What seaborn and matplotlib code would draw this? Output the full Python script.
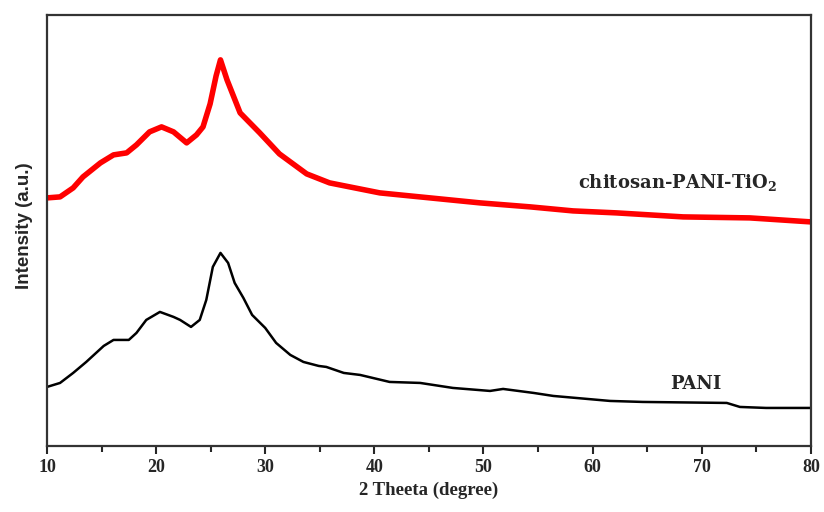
import seaborn as sns
import pandas as pd
import matplotlib.pyplot as plt
from matplotlib.ticker import MultipleLocator

# values (intensity in arbitrary units)
pani_2theta = [10.0, 11.2, 12.4, 13.6, 15.2, 16.1, 17.5, 18.2, 19.1, 20.35, 21.6, 22.2, 23.2,
               24.0, 24.6, 25.2, 25.9, 26.6, 27.2, 28.0, 28.8, 30.0, 31.0, 32.3, 33.5, 34.9,
               35.6, 37.2, 38.7, 41.4, 44.2, 47.2, 50.6, 51.8, 54.6, 56.4, 61.6, 64.6, 72.3,
               73.5, 75.9, 80.0]
pani_int = [59, 63, 73, 84, 100, 106, 106, 113, 126, 134, 129, 126, 119,
            126, 146, 179, 193, 183, 163, 148, 131, 118, 103, 91, 84, 80,
            79, 73, 71, 64, 63, 58, 55, 57, 53, 50, 45, 44, 43,
            39, 38, 38]

ctp_2theta = [10.0, 11.2, 12.4, 13.3, 14.9, 16.1, 17.3, 18.2, 19.4, 20.5, 21.6, 22.8, 23.7,
              24.3, 24.95, 25.5, 25.9, 26.5, 27.7, 29.5, 31.3, 33.8, 35.9, 40.5, 45.1, 49.7,
              54.3, 58.2, 62.2, 68.3, 74.4, 80.0]
ctp_int = [248, 249, 258, 269, 283, 291, 293, 301, 314, 319, 314, 303, 311,
           319, 342, 370, 386, 366, 333, 313, 292, 272, 263, 253, 248, 243,
           239, 235, 233, 229, 228, 224]

pani = pd.DataFrame({'theta': pani_2theta, 'intensity': pani_int})
ctp = pd.DataFrame({'theta': ctp_2theta, 'intensity': ctp_int})

sns.set_style("ticks")
plt.rcParams['font.family'] = ['Liberation Serif', 'DejaVu Serif']
plt.rcParams['mathtext.fontset'] = 'custom'
plt.rcParams['mathtext.rm'] = 'DejaVu Serif:bold'
plt.rcParams['mathtext.it'] = 'DejaVu Serif:bold'

fig = plt.figure(figsize=(8.24, 5.12), dpi=100)
ax = fig.add_axes([0.057, 0.129, 0.927, 0.842])

sns.lineplot(x='theta', y='intensity', data=ctp, color='#ff0000', lw=4, ax=ax)
sns.lineplot(x='theta', y='intensity', data=pani, color='black', lw=1.8, ax=ax)

ax.set_xlim(10, 80)
ax.set_ylim(0, 431)
ax.xaxis.set_major_locator(MultipleLocator(10))
ax.xaxis.set_minor_locator(MultipleLocator(5))
ax.set_yticks([])
ax.tick_params(axis='x', which='major', length=6, width=1.5, direction='out')
ax.tick_params(axis='x', which='minor', length=4, width=1.5, direction='out')
for lab in ax.get_xticklabels():
    lab.set_fontsize(13)
    lab.set_fontweight('bold')
for sp in ax.spines.values():
    sp.set_linewidth(1.6)
    sp.set_color('#333333')

ax.set_xlabel('2 Theeta (degree)', fontsize=13.5, fontweight='bold')
ax.set_ylabel('Intensity (a.u.)', fontsize=13.5, fontweight='bold', family='Liberation Sans')
ax.yaxis.set_label_coords(-0.018, 0.51)

ax.text(67.8, 263, 'chitosan-PANI-TiO$_2$', fontsize=13, fontweight='bold',
        family='DejaVu Serif', ha='center', va='center')
ax.text(69.5, 62, 'PANI', fontsize=13, fontweight='bold', family='DejaVu Serif',
        ha='center', va='center')

fig.savefig('out.png', dpi=100)
